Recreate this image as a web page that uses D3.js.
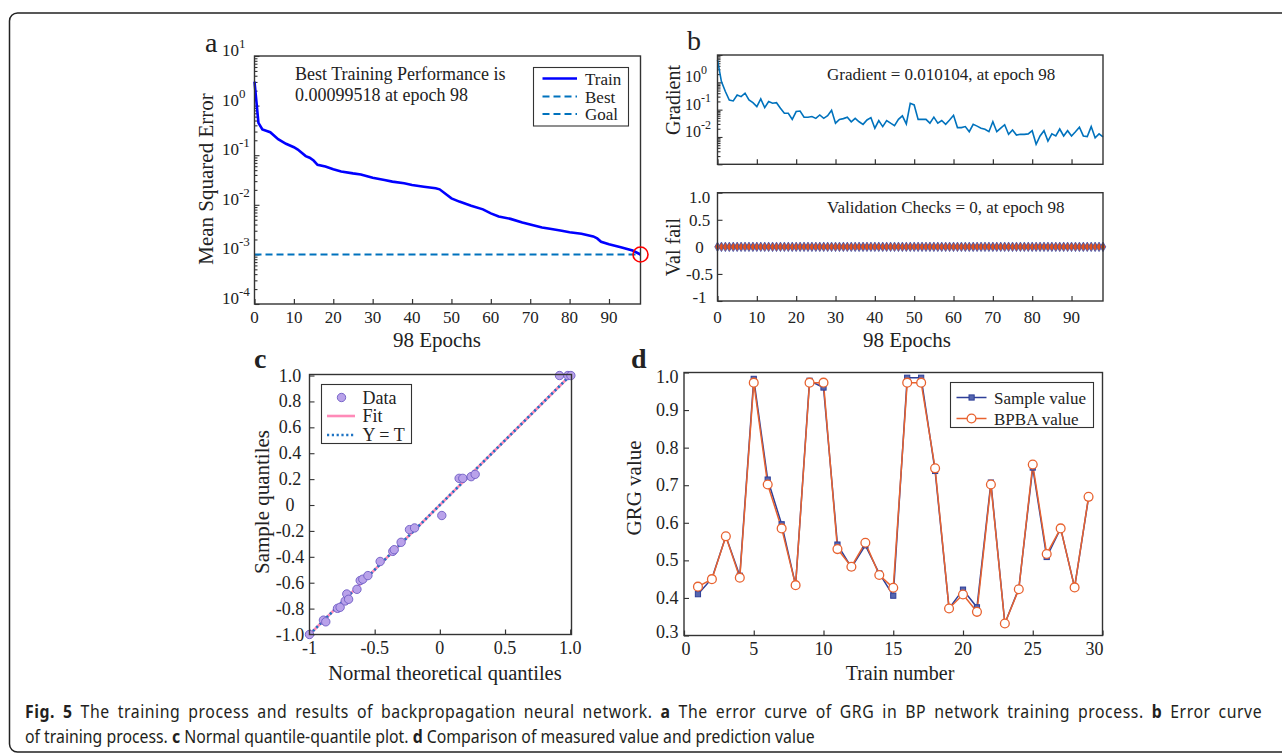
<!DOCTYPE html>
<html>
<head>
<meta charset="utf-8">
<script src="https://cdn.jsdelivr.net/npm/d3@7"></script>
<style>
  body { margin: 0; background: #fff; }
  svg { display: block; }
  text { font-family: "Liberation Serif", "Times New Roman", serif; fill: #222; }
  .cap text { font-family: "Noto Sans", "Open Sans", sans-serif; fill: #231f20; }
</style>
</head>
<body>
<svg id="fig" width="1282" height="755"></svg>
<script>
// --- panel a: training MSE (log) ---
const trainEpochs = [0, 1, 2, 4, 6, 8, 10, 11, 13, 14, 15, 16, 18, 20, 22, 25, 27, 30, 33, 35, 38, 40, 43, 46, 47,
  50, 52, 55, 58, 60, 62, 65, 68, 70, 73, 75, 78, 80, 83, 86, 87, 88, 90, 93, 96, 98];
const trainMSE = [3.04, 0.45, 0.33, 0.29, 0.21, 0.17, 0.145, 0.13, 0.096, 0.089, 0.078, 0.064, 0.059, 0.052, 0.047,
  0.043, 0.041, 0.035, 0.0316, 0.0293, 0.0271, 0.0251, 0.0232, 0.0215, 0.0205, 0.0135, 0.0116, 0.0096, 0.0081,
  0.0067, 0.0058, 0.0052, 0.0044, 0.0040, 0.0035, 0.0033, 0.0030, 0.0028, 0.0026, 0.0023, 0.0021, 0.0018,
  0.0016, 0.0014, 0.0012, 0.00099518];
const bestMSE = 0.00099518;
const bestEpoch = 98;
const epochTicks = [0, 10, 20, 30, 40, 50, 60, 70, 80, 90];
const mseDecades = [1e1, 1e0, 1e-1, 1e-2, 1e-3, 1e-4];
const mseExps = ["1", "0", "-1", "-2", "-3", "-4"];
const legendA = ["Train", "Best", "Goal"];

// --- panel b: gradient (index = epoch) and validation checks ---
const gradValues = [6.6, 1.07, 0.46, 0.226, 0.208, 0.345, 0.30, 0.40, 0.226, 0.18,
  0.129, 0.247, 0.118, 0.197, 0.171, 0.18, 0.113, 0.074, 0.074, 0.044,
  0.085, 0.089, 0.053, 0.053, 0.056, 0.048, 0.064, 0.048, 0.060, 0.095,
  0.032, 0.044, 0.047, 0.053, 0.036, 0.048, 0.036, 0.029, 0.042, 0.051,
  0.021, 0.040, 0.024, 0.040, 0.032, 0.026, 0.044, 0.059, 0.030, 0.171,
  0.149, 0.044, 0.044, 0.044, 0.032, 0.053, 0.032, 0.040, 0.029, 0.042,
  0.062, 0.022, 0.022, 0.024, 0.0156, 0.029, 0.025, 0.021, 0.019, 0.0156,
  0.036, 0.0156, 0.021, 0.028, 0.0125, 0.018, 0.0118, 0.0125, 0.0125, 0.013,
  0.017, 0.0054, 0.0109, 0.017, 0.0071, 0.013, 0.0109, 0.0196, 0.0109, 0.017,
  0.0109, 0.0156, 0.0227, 0.0109, 0.0104, 0.024, 0.0094, 0.013, 0.010104];
const gradDecades = [1e0, 1e-1, 1e-2];
const gradExps = ["0", "-1", "-2"];
const valFail = [0, 0, 0, 0, 0, 0, 0, 0, 0, 0, 0, 0, 0, 0, 0, 0, 0, 0, 0, 0,
  0, 0, 0, 0, 0, 0, 0, 0, 0, 0, 0, 0, 0, 0, 0, 0, 0, 0, 0, 0,
  0, 0, 0, 0, 0, 0, 0, 0, 0, 0, 0, 0, 0, 0, 0, 0, 0, 0, 0, 0,
  0, 0, 0, 0, 0, 0, 0, 0, 0, 0, 0, 0, 0, 0, 0, 0, 0, 0, 0, 0,
  0, 0, 0, 0, 0, 0, 0, 0, 0, 0, 0, 0, 0, 0, 0, 0, 0, 0, 0];
const valTicks = [1, 0.5, 0, -0.5, -1];
const valTickLabels = ["1.0", "0.5", "0", "-0.5", "-1"];

// --- panel c: normal Q-Q ---
const qqTheory = [-1.0, -0.893, -0.875, -0.785, -0.765, -0.726, -0.714, -0.70, -0.636, -0.611, -0.591, -0.552,
  -0.458, -0.361, -0.350, -0.297, -0.233, -0.194, 0.015, 0.148, 0.176, 0.240, 0.271, 0.918, 0.982, 1.005];
const qqSample = [-1.0, -0.889, -0.902, -0.798, -0.790, -0.741, -0.687, -0.728, -0.651, -0.583, -0.573, -0.545,
  -0.436, -0.358, -0.345, -0.288, -0.190, -0.177, -0.081, 0.206, 0.206, 0.219, 0.237, 1.0, 1.0, 1.0];
const fitEnds = [-1.0, 1.0];
const qqYTicks = [1.0, 0.8, 0.6, 0.4, 0.2, 0, -0.2, -0.4, -0.6, -0.8, -1.0];
const qqYLabels = ["1.0", "0.8", "0.6", "0.4", "0.2", "0", "-0.2", "-0.4", "-0.6", "-0.8", "-1.0"];
const qqXTicks = [-1, -0.5, 0, 0.5, 1];
const qqXLabels = ["-1", "-0.5", "0", "0.5", "1.0"];
const legendC = ["Data", "Fit", "Y = T"];

// --- panel d: GRG sample vs prediction ---
const trainNo = [1, 2, 3, 4, 5, 6, 7, 8, 9, 10, 11, 12, 13, 14, 15, 16, 17, 18, 19, 20,
  21, 22, 23, 24, 25, 26, 27, 28, 29];
const sampleVals = [0.410, 0.452, 0.564, 0.459, 0.983, 0.715, 0.596, 0.434, 0.978, 0.960,
  0.542, 0.481, 0.540, 0.465, 0.406, 0.986, 0.986, 0.738, 0.372, 0.422,
  0.375, 0.707, 0.332, 0.425, 0.747, 0.509, 0.585, 0.428, 0.667];
const bpbaVals = [0.430, 0.450, 0.564, 0.454, 0.973, 0.702, 0.585, 0.434, 0.973, 0.973,
  0.530, 0.483, 0.547, 0.461, 0.427, 0.973, 0.973, 0.745, 0.372, 0.409,
  0.363, 0.702, 0.332, 0.423, 0.755, 0.517, 0.585, 0.428, 0.669];
const grgTicks = [1.0, 0.9, 0.8, 0.7, 0.6, 0.5, 0.4, 0.3];
const grgLabels = ["1.0", "0.9", "0.8", "0.7", "0.6", "0.5", "0.4", "0.3"];
const trainTicks = [0, 5, 10, 15, 20, 25, 30];
const legendD = ["Sample value", "BPBA value"];

// --- caption ---
const captionLines = [
  [["Fig. 5", true], [" The training process and results of backpropagation neural network. ", false], ["a", true],
   [" The error curve of GRG in BP network training process. ", false], ["b", true], [" Error curve", false]],
  [["of training process. ", false], ["c", true], [" Normal quantile-quantile plot. ", false], ["d", true],
   [" Comparison of measured value and prediction value", false]]
];

const BLUE = "#0072bd", TRAIN_BLUE = "#0000ff", NAVY = "#2e3f98", ORANGE = "#e8622f";
const svg = d3.select("#fig");

// outer frame (rounded, runs off the right edge)
svg.append("rect").attr("x", 9.5).attr("y", 13).attr("width", 1300).attr("height", 739)
  .attr("rx", 8).attr("fill", "none").attr("stroke", "#222").attr("stroke-width", 1.5);

function box(g, x, y) {
  g.append("rect").attr("x", x.range()[0]).attr("y", y.range()[1])
    .attr("width", x.range()[1] - x.range()[0]).attr("height", y.range()[0] - y.range()[1])
    .attr("fill", "none").attr("stroke", "#333").attr("stroke-width", 1.4);
}

// inward ticks via d3 axes; labels drawn separately
function ticksBottom(g, x, y, values) {
  g.append("g").attr("transform", `translate(0,${y.range()[0]})`)
    .call(d3.axisBottom(x).tickValues(values).tickSize(-5).tickFormat(""))
    .call(a => a.select(".domain").remove())
    .call(a => a.selectAll("line").attr("stroke", "#333").attr("stroke-width", 1.2));
}
function ticksLeft(g, x, y, values, sizeFn) {
  g.append("g").attr("transform", `translate(${x.range()[0]},0)`)
    .call(d3.axisLeft(y).tickValues(values).tickSize(-5).tickFormat(""))
    .call(a => a.select(".domain").remove())
    .call(a => a.selectAll("line").attr("stroke", "#333").attr("stroke-width", 1.1)
      .attr("x2", d => sizeFn ? sizeFn(d) : 5));
}
function isDecade(d) { return Math.abs(Math.log10(d) - Math.round(Math.log10(d))) < 1e-9; }

function xLabels(g, x, values, labels, yBase, size) {
  g.selectAll(null).data(values).join("text")
    .attr("x", d => x(d)).attr("y", yBase).attr("text-anchor", "middle")
    .attr("font-size", size).text((d, i) => labels ? labels[i] : d);
}
function powLabels(g, y, values, exps, xLeft, baseSize, expSize) {
  const t = g.selectAll(null).data(values).join("text")
    .attr("x", xLeft).attr("y", d => y(d)).attr("font-size", baseSize);
  t.append("tspan").text("10");
  t.append("tspan").attr("dy", -8).attr("font-size", expSize).text((d, i) => exps[i]);
}
function rotLabel(g, text, x, y, size) {
  g.append("text").attr("transform", `translate(${x},${y}) rotate(-90)`)
    .attr("text-anchor", "middle").attr("font-size", size).text(text);
}

// ================= panel a =================
const gA = svg.append("g");
const xA = d3.scaleLinear().domain([0, 98]).range([254.5, 640.5]);
const yA = d3.scaleLog().domain([1e-4, 1e1]).range([304, 56]);
ticksBottom(gA, xA, yA, epochTicks);
ticksLeft(gA, xA, yA, yA.ticks(), d => isDecade(d) ? 5 : 3);
gA.append("path").datum([bestMSE, bestMSE])
  .attr("d", d3.line().x((d, i) => xA(i ? 98 : 0)).y(d => yA(d)))
  .attr("stroke", BLUE).attr("stroke-width", 2).attr("stroke-dasharray", "7,4").attr("fill", "none");
gA.append("path").datum(trainEpochs.map((e, i) => [e, trainMSE[i]]))
  .attr("d", d3.line().x(d => xA(d[0])).y(d => yA(d[1])))
  .attr("stroke", TRAIN_BLUE).attr("stroke-width", 2.6).attr("fill", "none");
box(gA, xA, yA);
gA.append("circle").attr("cx", xA(bestEpoch)).attr("cy", yA(bestMSE)).attr("r", 7.5)
  .attr("fill", "none").attr("stroke", "#f00").attr("stroke-width", 1.6);
powLabels(gA, yA, mseDecades, mseExps, 222, 17, 13);
xLabels(gA, xA, epochTicks, null, 323, 17);
gA.append("text").attr("x", 437).attr("y", 347).attr("text-anchor", "middle").attr("font-size", 21).text("98 Epochs");
rotLabel(gA, "Mean Squared Error", 213, 179, 21);
gA.append("text").attr("x", 295).attr("y", 80).attr("font-size", 18).text("Best Training Performance is");
gA.append("text").attr("x", 295).attr("y", 101).attr("font-size", 18).text(`${bestMSE} at epoch ${bestEpoch}`);
gA.append("text").attr("x", 205).attr("y", 52).attr("font-size", 28).text("a");
// legend a
gA.append("rect").attr("x", 533.5).attr("y", 67.5).attr("width", 95).attr("height", 58.5)
  .attr("fill", "#fff").attr("stroke", "#333").attr("stroke-width", 1.1);
const legA = gA.selectAll(null).data(legendA).join("g").attr("transform", (d, i) => `translate(0,${[78.5, 96.5, 114][i]})`);
legA.append("line").attr("x1", 542.5).attr("x2", 577).attr("stroke", (d, i) => i ? BLUE : TRAIN_BLUE)
  .attr("stroke-width", (d, i) => i ? 2 : 2.6).attr("stroke-dasharray", (d, i) => i ? "7,4" : null);
legA.append("text").attr("x", 585).attr("y", 6).attr("font-size", 17).text(d => d);

// ================= panel b (top) =================
const gB = svg.append("g");
const xB = d3.scaleLinear().domain([0, 98]).range([717.5, 1103]);
const yB = d3.scaleLog().domain([1e-3, 1e1]).range([164.3, 55]);
ticksBottom(gB, xB, yB, epochTicks);
ticksLeft(gB, xB, yB, yB.ticks(), d => isDecade(d) ? 5 : 3);
gB.append("path").datum(gradValues)
  .attr("d", d3.line().x((d, i) => xB(i)).y(d => yB(d)))
  .attr("stroke", BLUE).attr("stroke-width", 1.6).attr("fill", "none");
box(gB, xB, yB);
powLabels(gB, yB, gradDecades, gradExps, 685, 16, 12);
gB.append("text").attr("x", 827).attr("y", 79.5).attr("font-size", 17).text(`Gradient = ${gradValues[98]}, at epoch 98`);
rotLabel(gB, "Gradient", 680, 100, 20);
gB.append("text").attr("x", 687).attr("y", 50).attr("font-size", 28).text("b");

// ================= panel b (bottom) =================
const gV = svg.append("g");
const yV = d3.scaleLinear().domain([-1, 1]).range([301, 192.7]);
ticksBottom(gV, xB, yV, epochTicks);
ticksLeft(gV, xB, yV, valTicks);
gV.append("path").datum(valFail)
  .attr("d", d3.line().x((d, i) => xB(i)).y(d => yV(d)))
  .attr("stroke", NAVY).attr("stroke-width", 1).attr("fill", "none");
gV.selectAll(null).data(valFail).join("path")
  .attr("transform", (d, i) => `translate(${xB(i)},${yV(d)})`)
  .attr("d", d3.symbol(d3.symbolDiamond, 26))
  .attr("fill", "#e0521f").attr("stroke", "#3550b5").attr("stroke-width", 0.8);
box(gV, xB, yV);
gV.selectAll(null).data(valTicks).join("text")
  .attr("x", 699.5).attr("y", d => yV(d) + 6 + (d === 1 ? 4 : d === -1 ? -4 : 0))
  .attr("text-anchor", "middle").attr("font-size", 17).text((d, i) => valTickLabels[i]);
xLabels(gV, xB, epochTicks, null, 323, 17);
gV.append("text").attr("x", 907).attr("y", 347).attr("text-anchor", "middle").attr("font-size", 21).text("98 Epochs");
gV.append("text").attr("x", 827).attr("y", 213).attr("font-size", 17).text("Validation Checks = 0, at epoch 98");
rotLabel(gV, "Val fail", 680, 247, 20);

// ================= panel c =================
const gC = svg.append("g");
const xC = d3.scaleLinear().domain([-1, 1.01]).range([309.5, 571.5]);
const yC = d3.scaleLinear().domain([-1, 1.008]).range([634.5, 374.5]);
ticksBottom(gC, xC, yC, qqXTicks);
ticksLeft(gC, xC, yC, qqYTicks);
gC.append("line").attr("x1", xC(fitEnds[0])).attr("y1", yC(fitEnds[0])).attr("x2", xC(fitEnds[1])).attr("y2", yC(fitEnds[1]))
  .attr("stroke", "#ff8ab8").attr("stroke-width", 2.6);
gC.append("line").attr("x1", xC(fitEnds[0])).attr("y1", yC(fitEnds[0])).attr("x2", xC(fitEnds[1])).attr("y2", yC(fitEnds[1]))
  .attr("stroke", "#1f74c4").attr("stroke-width", 2.6).attr("stroke-dasharray", "2.2,2.6");
gC.selectAll(null).data(qqTheory).join("circle")
  .attr("cx", d => xC(d)).attr("cy", (d, i) => yC(qqSample[i])).attr("r", 4.2)
  .attr("fill", "#b9a2ea").attr("stroke", "#6e5cc4").attr("stroke-width", 0.9);
box(gC, xC, yC);
gC.selectAll(null).data(qqYTicks).join("text")
  .attr("x", 290).attr("y", d => yC(d) + 6).attr("text-anchor", "middle").attr("font-size", 18)
  .text((d, i) => qqYLabels[i]);
xLabels(gC, xC, qqXTicks, qqXLabels, 653.5, 18);
gC.append("text").attr("x", 445).attr("y", 680).attr("text-anchor", "middle").attr("font-size", 20.5).text("Normal theoretical quantiles");
rotLabel(gC, "Sample quantiles", 269, 502, 21);
gC.append("text").attr("x", 254).attr("y", 368).attr("font-size", 28).attr("font-weight", "bold").text("c");
// legend c
gC.append("rect").attr("x", 321.5).attr("y", 384.5).attr("width", 90).attr("height", 59)
  .attr("fill", "#fff").attr("stroke", "#333").attr("stroke-width", 1.1);
const legC = gC.selectAll(null).data(legendC).join("g").attr("transform", (d, i) => `translate(0,${[397.5, 416, 435][i]})`);
legC.filter((d, i) => i === 0).append("circle").attr("cx", 341.5).attr("r", 4.2)
  .attr("fill", "#b9a2ea").attr("stroke", "#6e5cc4").attr("stroke-width", 0.9);
legC.filter((d, i) => i === 1).append("line").attr("x1", 327).attr("x2", 355)
  .attr("stroke", "#ff8ab8").attr("stroke-width", 2.6);
legC.filter((d, i) => i === 2).append("line").attr("x1", 327).attr("x2", 355)
  .attr("stroke", "#1f74c4").attr("stroke-width", 2.6).attr("stroke-dasharray", "2.2,2.6");
legC.append("text").attr("x", 362.5).attr("y", 6).attr("font-size", 18).text(d => d);

// ================= panel d =================
const gD = svg.append("g");
const xD = d3.scaleLinear().domain([0, 30]).range([684, 1102.5]);
const yD = d3.scaleLinear().domain([0.3, 1.0]).range([635.5, 372.5]);
ticksBottom(gD, xD, yD, trainTicks);
ticksLeft(gD, xD, yD, grgTicks);
const lineD = d3.line().x((d, i) => xD(trainNo[i])).y(d => yD(d));
gD.append("path").datum(sampleVals).attr("d", lineD).attr("stroke", NAVY).attr("stroke-width", 1.5).attr("fill", "none");
gD.append("path").datum(bpbaVals).attr("d", lineD).attr("stroke", ORANGE).attr("stroke-width", 1.5).attr("fill", "none");
gD.selectAll(null).data(sampleVals).join("rect")
  .attr("x", (d, i) => xD(trainNo[i]) - 2.6).attr("y", d => yD(d) - 2.6).attr("width", 5.2).attr("height", 5.2)
  .attr("fill", "#5566b0").attr("stroke", NAVY).attr("stroke-width", 1);
gD.selectAll(null).data(bpbaVals).join("circle")
  .attr("cx", (d, i) => xD(trainNo[i])).attr("cy", d => yD(d)).attr("r", 4.4)
  .attr("fill", "#fff").attr("stroke", ORANGE).attr("stroke-width", 1.3);
box(gD, xD, yD);
gD.selectAll(null).data(grgTicks).join("text")
  .attr("x", 678.5).attr("y", d => yD(d) + 6 + (d === 1 ? 4 : d === 0.3 ? -4 : 0))
  .attr("text-anchor", "end").attr("font-size", 18).text((d, i) => grgLabels[i]);
gD.selectAll(null).data(trainTicks).join("text")
  .attr("x", d => d === 30 ? xD(d) - 8 : xD(d) + (d === 0 ? 2 : 0)).attr("y", 655)
  .attr("text-anchor", "middle").attr("font-size", 18).text(d => d);
gD.append("text").attr("x", 900).attr("y", 680).attr("text-anchor", "middle").attr("font-size", 20).text("Train number");
rotLabel(gD, "GRG value", 641, 488, 21);
gD.append("text").attr("x", 631).attr("y", 368).attr("font-size", 28).attr("font-weight", "bold").text("d");
// legend d
gD.append("rect").attr("x", 950.5).attr("y", 382.5).attr("width", 143).attr("height", 45)
  .attr("fill", "#fff").attr("stroke", "#333").attr("stroke-width", 1.1);
const legD = gD.selectAll(null).data(legendD).join("g").attr("transform", (d, i) => `translate(0,${[397.5, 418.5][i]})`);
legD.append("line").attr("x1", 956.5).attr("x2", 986.5).attr("stroke", (d, i) => i ? ORANGE : NAVY).attr("stroke-width", 1.5);
legD.filter((d, i) => i === 0).append("rect").attr("x", 969).attr("y", -2.6).attr("width", 5.2).attr("height", 5.2)
  .attr("fill", "#5566b0").attr("stroke", NAVY);
legD.filter((d, i) => i === 1).append("circle").attr("cx", 971.5).attr("r", 4.4)
  .attr("fill", "#fff").attr("stroke", ORANGE).attr("stroke-width", 1.3);
legD.append("text").attr("x", 994).attr("y", 6).attr("font-size", 17).text(d => d);

// ================= caption =================
// narrow the sans glyphs so line 2 matches, then justify line 1 (half letter, half word spacing)
const cap = svg.append("g").attr("class", "cap");
const capBase = [718, 743];
const capWidths = [1237, 790];
const capTexts = captionLines.map(line => {
  const t = cap.append("text").attr("x", 0).attr("y", 0).attr("font-size", 18);
  line.forEach(([s, bold]) => t.append("tspan").attr("font-weight", bold ? "bold" : null).text(s));
  return t;
});
const squeeze = capWidths[1] / capTexts[1].node().getComputedTextLength();
const line1 = captionLines[0].map(p => p[0]).join("");
const nSpaces = line1.split(" ").length - 1;
const extra = Math.max(0, capWidths[0] / squeeze - capTexts[0].node().getComputedTextLength());
capTexts[0].attr("letter-spacing", (extra / 2) / (line1.length - 1))
  .attr("word-spacing", (extra / 2) / nSpaces);
capTexts.forEach((t, li) => t.attr("transform", `translate(25,${capBase[li]}) scale(${squeeze},1)`));
</script>
</body>
</html>
